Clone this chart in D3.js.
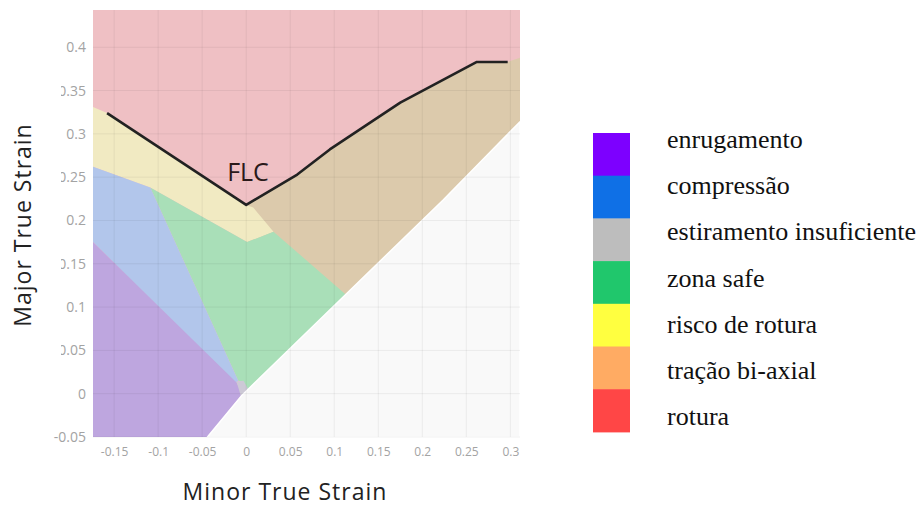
<!DOCTYPE html>
<html>
<head>
<meta charset="utf-8">
<script src="https://cdn.jsdelivr.net/npm/d3@7"></script>
<style>
  html, body { margin: 0; padding: 0; background: #ffffff; }
  svg { display: block; }
</style>
</head>
<body>
<svg id="chart" width="924" height="506"></svg>
<script>
// Axis ticks
const xTicks = [-0.15, -0.1, -0.05, 0, 0.05, 0.1, 0.15, 0.2, 0.25, 0.3];
const yTicks = [-0.05, 0, 0.05, 0.1, 0.15, 0.2, 0.25, 0.3, 0.35, 0.4];

// Forming limit curve (minor strain, major strain)
const flcMinor = [-0.158, 0.0, 0.058, 0.095, 0.175, 0.262, 0.297];
const flcMajor = [0.324, 0.218, 0.253, 0.282, 0.336, 0.383, 0.383];

// Zone outlines as [minor, major] vertices
const zoneTracao = [[0.0, 0.218], [0.058, 0.253], [0.095, 0.282], [0.175, 0.336], [0.262, 0.383],
                    [0.297, 0.383], [0.311, 0.388], [0.311, -0.05], [0.0, -0.05]];
const zoneRisco = [[-0.174, 0.331], [-0.158, 0.324], [0.0, 0.218], [0.008, 0.215], [0.031, 0.187],
                   [0.001, 0.175], [-0.109, 0.238], [-0.174, 0.262]];
const zoneSafe = [[-0.109, 0.238], [0.001, 0.175], [0.031, 0.187], [0.116, 0.112], [0.01, -0.01],
                  [-0.004, 0.014], [-0.009, 0.015]];
const zoneCompressao = [[-0.174, 0.262], [-0.109, 0.238], [-0.009, 0.015], [-0.012, 0.012], [-0.174, 0.175]];
const zoneEnrugamento = [[-0.174, 0.175], [-0.011, 0.013], [-0.004, 0.0], [-0.044, -0.05], [-0.174, -0.05]];
const zoneEstiramento = [[-0.011, 0.014], [-0.003, 0.015], [0.004, 0.002], [-0.006, -0.003]];
const zoneFora = [[-0.044, -0.05], [-0.005, -0.002], [0.224, 0.224], [0.311, 0.314], [0.311, -0.05]];

// Legend
const legendLabels = ["enrugamento", "compressão", "estiramento insuficiente", "zona safe",
                      "risco de rotura", "tração bi-axial", "rotura"];
const legendColors = ["#7d00ff", "#0f70e6", "#bdbdbd", "#20c76c", "#ffff40", "#ffab63", "#ff4646"];

const svg = d3.select("#chart");

const x = d3.scaleLinear().domain([-0.174, 0.311]).range([93, 520]);
const y = d3.scaleLinear().domain([-0.05, 0.443]).range([437, 10]);

const poly = pts => "M" + pts.map(p => x(p[0]) + "," + y(p[1])).join("L") + "Z";

const plot = svg.append("g");

// Rotura zone fills the whole plot background; other zones are layered on top
plot.append("rect")
  .attr("x", x(-0.174)).attr("y", y(0.443))
  .attr("width", x(0.311) - x(-0.174)).attr("height", y(-0.05) - y(0.443))
  .attr("fill", "#efc0c4");

const zones = [
  { pts: zoneTracao, fill: "#dccaac" },
  { pts: zoneRisco, fill: "#f1eac2" },
  { pts: zoneSafe, fill: "#a9dfb8" },
  { pts: zoneCompressao, fill: "#b2c6eb" },
  { pts: zoneEnrugamento, fill: "#bea6df" },
  { pts: zoneEstiramento, fill: "#cdc9d6" },
];
plot.selectAll("path.zone").data(zones).join("path")
  .attr("class", "zone")
  .attr("d", d => poly(d.pts))
  .attr("fill", d => d.fill);

plot.append("path")
  .attr("d", poly(zoneFora))
  .attr("fill", "#f9f9f9")
  .attr("stroke", "#ffffff")
  .attr("stroke-width", 1.5)
  .attr("stroke-linejoin", "round");

// Grid
const grid = plot.append("g").attr("stroke", "#000").attr("stroke-opacity", 0.06).attr("stroke-width", 1);
grid.selectAll("line.v").data(xTicks).join("line")
  .attr("x1", d => x(d)).attr("x2", d => x(d))
  .attr("y1", y(0.443)).attr("y2", y(-0.05));
grid.selectAll("line.h").data(yTicks).join("line")
  .attr("x1", x(-0.174)).attr("x2", x(0.311))
  .attr("y1", d => y(d)).attr("y2", d => y(d));

// FLC
plot.append("path")
  .datum(flcMinor.map((m, i) => [m, flcMajor[i]]))
  .attr("d", d3.line().x(d => x(d[0])).y(d => y(d[1])))
  .attr("fill", "none")
  .attr("stroke", "#222")
  .attr("stroke-width", 2.6)
  .attr("stroke-linejoin", "round");

plot.append("text")
  .attr("x", 248).attr("y", y(0.245))
  .attr("text-anchor", "middle")
  .attr("font-family", "'Open Sans', sans-serif")
  .attr("font-size", 25)
  .attr("fill", "#2a1a1a")
  .text("FLC");

// Axes
const tickFont = "'Open Sans', sans-serif";
const xAxis = svg.append("g")
  .attr("transform", `translate(0,${y(-0.05)})`)
  .call(d3.axisBottom(x).tickValues(xTicks).tickSize(0).tickPadding(10).tickFormat(d => String(d)));
xAxis.select(".domain").remove();
xAxis.selectAll("text").attr("font-family", tickFont).attr("font-size", 12).attr("fill", "#a3a3a3");

const yAxis = svg.append("g")
  .attr("transform", `translate(${x(-0.174)},0)`)
  .call(d3.axisLeft(y).tickValues(yTicks).tickSize(0).tickPadding(7).tickFormat(d => String(d)));
yAxis.select(".domain").remove();
yAxis.selectAll("text").attr("font-family", tickFont).attr("font-size", 14).attr("fill", "#a3a3a3");

// Y title with its backing box
svg.append("rect").attr("x", 0).attr("y", 66).attr("width", 61).attr("height", 306).attr("fill", "#ffffff");
svg.append("text")
  .attr("transform", "translate(31,225) rotate(-90)")
  .attr("text-anchor", "middle")
  .attr("font-family", "'Open Sans', sans-serif")
  .attr("font-size", 23)
  .attr("letter-spacing", 1)
  .attr("fill", "#222")
  .text("Major True Strain");

svg.append("text")
  .attr("x", 285).attr("y", 500)
  .attr("text-anchor", "middle")
  .attr("font-family", "'Open Sans', sans-serif")
  .attr("font-size", 23)
  .attr("letter-spacing", 1)
  .attr("fill", "#222")
  .text("Minor True Strain");

// Legend
const legend = svg.append("g");
const swatchH = 42.7;
legend.selectAll("rect").data(legendColors).join("rect")
  .attr("x", 593).attr("y", (d, i) => 133 + i * swatchH)
  .attr("width", 37).attr("height", swatchH + 0.5)
  .attr("fill", d => d);
legend.selectAll("text").data(legendLabels).join("text")
  .attr("x", 667).attr("y", (d, i) => 148 + i * 46.2)
  .attr("font-family", "'Liberation Serif', 'Times New Roman', serif")
  .attr("font-size", 26)
  .attr("fill", "#111")
  .text(d => d);
</script>
</body>
</html>
